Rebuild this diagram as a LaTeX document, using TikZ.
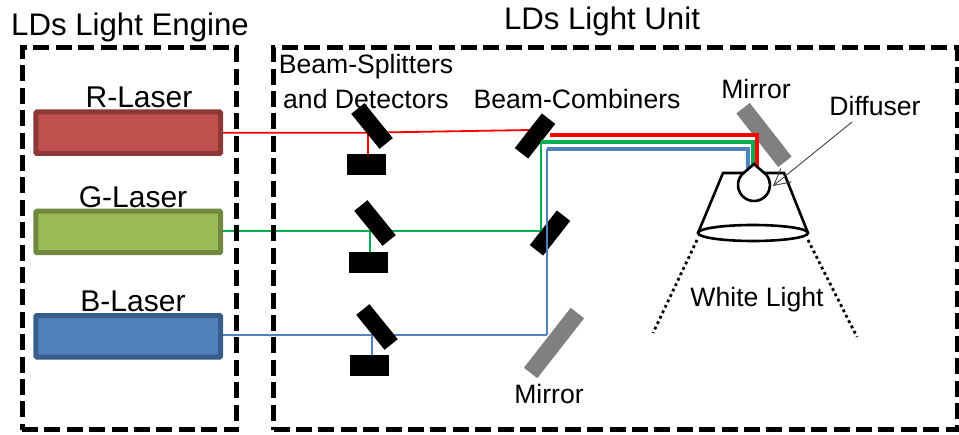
\documentclass[tikz,border=0pt]{standalone}
\usepackage{fontspec}
\setmainfont{Liberation Sans}
\usetikzlibrary{arrows.meta,backgrounds}
\definecolor{rbeam}{HTML}{FF0000}
\definecolor{gbeam}{HTML}{00B050}
\definecolor{bbeam}{HTML}{4F81BD}
\begin{document}
\begin{tikzpicture}[x=1pt,y=-1pt,
  bigtext/.style={font=\fontsize{31.2}{34}\selectfont,inner sep=0pt},
  lasertext/.style={font=\fontsize{30}{34}\selectfont,inner sep=0pt},
  smalltext/.style={font=\fontsize{26.6}{35}\selectfont,inner sep=0pt,align=center},
  unitbox/.style={draw,line width=5pt,dash pattern=on 16pt off 6.4pt,inner sep=0pt,minimum height=382pt},
  laser/.style={draw,line width=5pt,rounded corners=1pt,minimum width=184.7pt,minimum height=41.5pt,inner sep=0pt},
  splitter/.style={fill=black,minimum width=45pt,minimum height=17pt,inner sep=0pt,rotate=-51},
  combiner/.style={fill=black,minimum width=44pt,minimum height=17pt,inner sep=0pt,rotate=52},
  detector/.style={fill=black,minimum width=39pt,minimum height=21pt,inner sep=0pt},
  mirror/.style={fill=black!50,minimum height=17pt,inner sep=0pt},
  thin beam/.style={line width=1.8pt},
  thick beam/.style={line width=3.8pt},
  dotline/.style={line width=2.8pt,dash pattern=on 2.8pt off 3.2pt},
  lamp/.style={line width=2.6pt}]
\useasboundingbox (0,0) rectangle (959,435);
% boxes
\node[unitbox,minimum width=214.7pt] (engine) at (129.4,239) {};
\node[unitbox,minimum width=683.5pt] (unit) at (615.3,239) {};
\node[bigtext] (enginetitle) at (130,27) {LDs Light Engine};
\node[bigtext] (unittitle) at (602,21) {LDs Light Unit};
% lasers
\node[lasertext] (rlabel) at (139,97) {R-Laser};
\node[lasertext] (glabel) at (133,197) {G-Laser};
\node[lasertext] (blabel) at (133,301) {B-Laser};
\node[laser,fill={rgb,255:red,192;green,80;blue,77},draw={rgb,255:red,140;green,56;blue,53}] (rlaser) at (128.3,132.7) {};
\node[laser,fill={rgb,255:red,155;green,187;blue,89},draw={rgb,255:red,113;green,137;blue,63}] (glaser) at (128.3,232) {};
\node[laser,fill={rgb,255:red,79;green,129;blue,189},draw={rgb,255:red,56;green,93;blue,138}] (blaser) at (128.3,336.3) {};
% optics
\node[splitter] (rsplit) at (372,126) {};
\node[splitter] (gsplit) at (375,223) {};
\node[splitter] (bsplit) at (377,327) {};
\node[detector] (rdet) at (366.5,164.5) {};
\node[detector] (gdet) at (368.5,262.5) {};
\node[detector] (bdet) at (369.5,366) {};
\node[combiner] (rcomb) at (535,136) {};
\node[combiner] (gcomb) at (550,233) {};
\node[mirror,minimum width=76pt,rotate=52] (lowmirror) at (554,343) {};
\node[mirror,minimum width=68pt,rotate=-52] (topmirror) at (764,135) {};
% beam points
\coordinate (rhit) at (368,132.7);
\coordinate (rend) at (530,130);
\coordinate (ghit) at (370,231);
\coordinate (gturn) at (541,231);
\coordinate (bhit) at (372,335);
\coordinate (bturn) at (547,335);
\begin{scope}[on background layer]
\draw[rbeam,thin beam] (rlaser.east |- rhit) -- (rhit) -- (rend);
\draw[rbeam,thin beam] (rhit) -- (rhit |- rdet.north);
\draw[gbeam,thin beam] (glaser.east |- ghit) -- (gturn);
\draw[gbeam,thin beam] (ghit) -- (ghit |- gdet.north);
\draw[bbeam,thin beam] (blaser.east |- bhit) -- (bturn);
\draw[bbeam,thin beam] (bhit) -- (bhit |- bdet.north);
\end{scope}
% bulb and shade
\node[circle,minimum size=32pt,inner sep=0pt,outer sep=0pt] (bulb) at (754,185) {};
\coordinate (tip) at (754,164);
\coordinate (shadeleft) at (698,233);
\coordinate (shaderight) at (808,233);
\draw[rbeam,thick beam] (550,135) -- (757,135) -- (757,166);
\draw[gbeam,thick beam] (541,142) -- (753,142) -- (753,166);
\draw[gbeam,thin beam] (gturn) -- (541,142);
\draw[bbeam,thin beam] (bturn) -- (547,149);
\draw[bbeam,thick beam] (547,149) -- (748,149) -- (748,172);
\draw[lamp] (shadeleft) -- (723,173) -- (784,173) -- (shaderight);
\draw[lamp,fill=white] (tip) -- (bulb.140) arc[start angle=140,delta angle=260,radius=16pt] -- cycle;
\draw[lamp] (753,233) ellipse (55 and 8);
\coordinate (leftray) at (653,333);
\coordinate (rightray) at (857,337);
\draw[dotline] (697,240) -- (leftray);
\draw[dotline] (808,240) -- (rightray);
% labels
\node[smalltext] (splitlabel) at (366,81) {Beam-Splitters\\and Detectors};
\node[smalltext] (comblabel) at (577,99) {Beam-Combiners};
\node[smalltext] (toplabel) at (756,89) {Mirror};
\node[smalltext] (difflabel) at (875,106) {Diffuser};
\node[smalltext] (whitelabel) at (757,300) {White Light};
\node[smalltext] (lowlabel) at (549,394) {Mirror};
\coordinate (difftip) at (773,186);
\draw[black!75,line width=0.9pt,-{Straight Barb[length=16pt,width=17pt]}] (852,122) -- (difftip);
\end{tikzpicture}
\end{document}
